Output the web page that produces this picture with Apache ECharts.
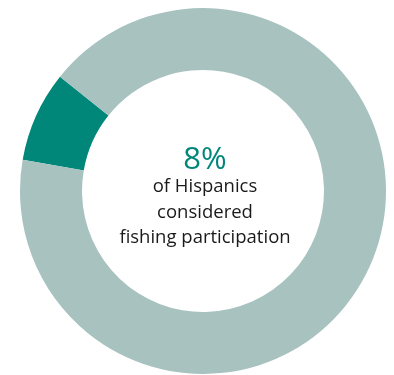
<!DOCTYPE html>
<html><head><meta charset="utf-8">
<script src="https://cdn.jsdelivr.net/npm/echarts@6/dist/echarts.min.js"></script>
<style>html,body{margin:0;padding:0;background:#fff}#c{width:394px;height:375px}</style>
</head><body><div id="c"></div>
<script>
var categories = ['Considered fishing participation', 'Did not consider'];
var values = [8, 92];
var colors = ['#008779', '#a7c2bf'];
var bigLabel = '8%';
var subLines = ['of Hispanics', 'considered', 'fishing participation'];

var chart = echarts.init(document.getElementById('c'));
chart.setOption({
  animation: false,
  series: [{
    type: 'pie',
    center: [203, 191],
    radius: [121, 183],
    startAngle: 170.2,
    clockwise: true,
    silent: true,
    label: {show: false},
    labelLine: {show: false},
    itemStyle: {borderWidth: 0},
    data: categories.map(function (c, i) {
      return {name: c, value: values[i], itemStyle: {color: colors[i]}};
    })
  }],
  graphic: [{
    type: 'text',
    x: 205,
    y: 147,
    style: {
      text: '{big|' + bigLabel + '}\n' + subLines.map(function (s) { return '{sub|' + s + '}'; }).join('\n'),
      align: 'center',
      verticalAlign: 'top',
      rich: {
        big: {fontFamily: 'Open Sans', fontWeight: 400, fontSize: 31, fill: '#008779', lineHeight: 27, align: 'center'},
        sub: {fontFamily: 'Open Sans', fontWeight: 400, fontSize: 18.5, fill: '#1a1a1a', lineHeight: 25.5, align: 'center'}
      }
    }
  }]
});
</script></body></html>
